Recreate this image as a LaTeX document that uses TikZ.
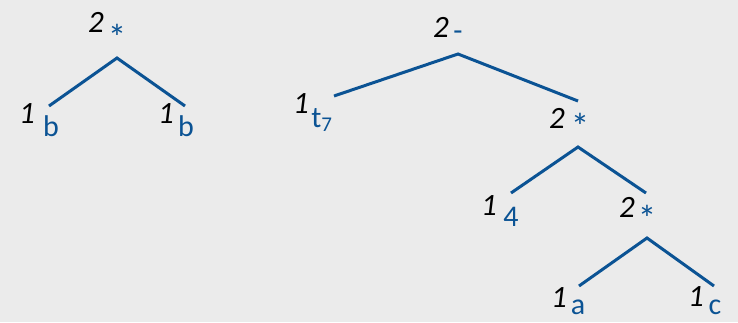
\documentclass[tikz,border=0pt]{standalone}
\usepackage{fontspec}
\setmainfont{Carlito}
\definecolor{bg}{HTML}{EBEBEB}
\definecolor{tb}{HTML}{0B5394}
\begin{document}
\begin{tikzpicture}[x=1pt,y=-1pt,
  edge/.style={draw=tb,line width=3pt},
  num/.style={inner sep=0pt,font=\fontsize{31}{31}\selectfont\itshape,text=black},
  lab/.style={inner sep=0pt,font=\fontsize{30}{30}\selectfont,text=tb},
  ast/.style={inner sep=0pt,font=\fontsize{37}{37}\selectfont,text=tb}]
\fill[bg] (0,0) rectangle (738,322);
\useasboundingbox (0,0) rectangle (738,322);
% left tree
\coordinate (A) at (117,58);
\coordinate (Al) at (49,106);
\coordinate (Ar) at (185,106);
\draw[edge] (Al) -- (A) -- (Ar);
\node[num] (An) at (96,22) {2};
\node[ast] (Ao) at (117,37) {*};
\node[num] (Bn1) at (27,114) {1};
\node[lab] (Bl1) at (51,126) {b};
\node[num] (Bn2) at (166,114) {1};
\node[lab] (Bl2) at (186,126) {b};
% right tree
\coordinate (R) at (458,54);
\coordinate (Rl) at (334,96);
\coordinate (Rr) at (578,101);
\draw[edge] (Rl) -- (R) -- (Rr);
\node[num] (Rn) at (441,27) {2};
\node[lab] (Ro) at (458,36) {-};
\node[num] (Tn) at (301,104) {1};
\node[lab] (Tl) at (322,120) {t\textsubscript{7}};
\node[num] (Sn) at (557,118) {2};
\node[ast] (So) at (580,126) {*};
\coordinate (S) at (578,147);
\coordinate (Sl) at (511,193);
\coordinate (Sr) at (646,193);
\draw[edge] (Sl) -- (S) -- (Sr);
\node[num] (Fn) at (489,206) {1};
\node[lab] (Fl) at (511,217) {4};
\node[num] (Un) at (627,207) {2};
\node[ast] (Uo) at (647,218) {*};
\coordinate (U) at (647,238);
\coordinate (Ul) at (579,286);
\coordinate (Ur) at (714,286);
\draw[edge] (Ul) -- (U) -- (Ur);
\node[num] (Gn) at (559,298) {1};
\node[lab] (Gl) at (578,307) {a};
\node[num] (Hn) at (696,297) {1};
\node[lab] (Hl) at (715,307) {c};
\end{tikzpicture}
\end{document}
